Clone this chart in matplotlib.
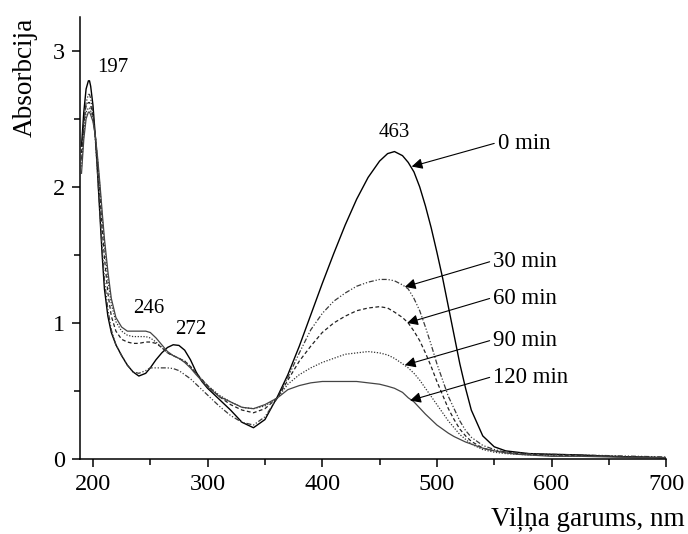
import matplotlib
matplotlib.use("Agg")
import matplotlib.pyplot as plt
from matplotlib.ticker import MultipleLocator

plt.rcParams['font.family'] = ['Liberation Serif', 'DejaVu Serif']

# wavelength grid, nm
wl = [190, 192, 194, 196, 197, 198, 200, 202, 204, 206, 208, 210, 213, 216,
      220, 225, 230, 235, 240, 246, 250, 255, 260, 265, 270, 275, 280, 285,
      290, 295, 300, 310, 320, 330, 340, 350, 361, 370, 380, 390, 400, 410,
      420, 430, 440, 450, 457, 463, 470, 475, 480, 485, 490, 495, 500, 505,
      510, 515, 520, 525, 530, 540, 550, 560, 570, 580, 600, 625, 650, 675, 700]

# absorbance
a_0 = [2.30, 2.55, 2.72, 2.78, 2.78, 2.74, 2.60, 2.38, 2.10, 1.80, 1.50, 1.25, 1.05, 0.93,
       0.84, 0.76, 0.69, 0.64, 0.61, 0.63, 0.67, 0.73, 0.78, 0.82, 0.84, 0.835, 0.80, 0.73,
       0.64, 0.57, 0.52, 0.44, 0.36, 0.27, 0.23, 0.29, 0.46, 0.62, 0.83, 1.06, 1.29, 1.51,
       1.72, 1.91, 2.07, 2.19, 2.245, 2.26, 2.23, 2.18, 2.11, 2.00, 1.86, 1.70, 1.52, 1.33,
       1.12, 0.91, 0.70, 0.52, 0.36, 0.17, 0.09, 0.06, 0.05, 0.04,
       0.035, 0.03, 0.02, 0.015, 0.01]
a_30 = [2.20, 2.45, 2.62, 2.68, 2.68, 2.65, 2.55, 2.35, 2.10, 1.82, 1.55, 1.32, 1.10, 0.95,
        0.84, 0.76, 0.69, 0.64, 0.63, 0.65, 0.67, 0.67, 0.67, 0.67, 0.665, 0.65, 0.62, 0.59,
        0.55, 0.51, 0.47, 0.39, 0.32, 0.27, 0.25, 0.31, 0.45, 0.60, 0.78, 0.95, 1.07, 1.16,
        1.22, 1.27, 1.30, 1.32, 1.32, 1.31, 1.28, 1.25, 1.18, 1.09, 0.97, 0.84, 0.70, 0.58,
        0.46, 0.37, 0.28, 0.21, 0.16, 0.10, 0.07, 0.05, 0.045, 0.04,
        0.035, 0.03, 0.025, 0.02, 0.015]
a_60 = [2.25, 2.48, 2.60, 2.62, 2.62, 2.60, 2.52, 2.38, 2.18, 1.95, 1.70, 1.48, 1.22, 1.05,
        0.94, 0.88, 0.86, 0.85, 0.85, 0.86, 0.86, 0.85, 0.82, 0.78, 0.76, 0.74, 0.72, 0.68,
        0.63, 0.585, 0.54, 0.46, 0.40, 0.36, 0.34, 0.37, 0.45, 0.58, 0.72, 0.83, 0.93, 1.00,
        1.05, 1.09, 1.11, 1.12, 1.11, 1.08, 1.04, 1.00, 0.94, 0.87, 0.78, 0.68, 0.57, 0.47,
        0.37, 0.29, 0.22, 0.17, 0.13, 0.08, 0.06, 0.05, 0.04, 0.035,
        0.03, 0.025, 0.02, 0.015, 0.01]
a_90 = [2.15, 2.40, 2.55, 2.58, 2.58, 2.56, 2.50, 2.38, 2.20, 2.00, 1.78, 1.58, 1.32, 1.14,
        1.01, 0.94, 0.91, 0.90, 0.90, 0.90, 0.89, 0.86, 0.82, 0.78, 0.76, 0.74, 0.72, 0.68,
        0.63, 0.585, 0.54, 0.47, 0.42, 0.38, 0.37, 0.39, 0.45, 0.55, 0.62, 0.67, 0.71, 0.74,
        0.77, 0.78, 0.79, 0.78, 0.765, 0.74, 0.70, 0.67, 0.63, 0.58, 0.52, 0.46, 0.40, 0.34,
        0.28, 0.23, 0.18, 0.145, 0.11, 0.07, 0.05, 0.04, 0.035, 0.03,
        0.025, 0.02, 0.02, 0.015, 0.01]
a_120 = [2.10, 2.35, 2.50, 2.55, 2.55, 2.53, 2.48, 2.38, 2.22, 2.03, 1.82, 1.62, 1.38, 1.18,
         1.04, 0.97, 0.94, 0.94, 0.94, 0.94, 0.93, 0.89, 0.84, 0.79, 0.76, 0.74, 0.71, 0.67,
         0.62, 0.575, 0.53, 0.46, 0.42, 0.38, 0.37, 0.40, 0.45, 0.51, 0.54, 0.56, 0.57, 0.57,
         0.57, 0.57, 0.56, 0.55, 0.535, 0.52, 0.49, 0.45, 0.42, 0.375, 0.33, 0.29, 0.25, 0.22,
         0.19, 0.165, 0.145, 0.125, 0.11, 0.08, 0.06, 0.045, 0.035, 0.03,
         0.02, 0.02, 0.015, 0.01, 0.01]

# peak labels: text, x, y
peaks = [("197", 217.5, 2.875), ("246", 249, 1.11), ("272", 285.5, 0.955), ("463", 462.6, 2.40)]

# time labels: text, text x/y, arrow tip x/y
times = [("0 min", 553, 2.32, 478, 2.15),
         ("30 min", 549, 1.45, 472, 1.265),
         ("60 min", 549, 1.18, 474, 1.00),
         ("90 min", 549, 0.87, 472, 0.69),
         ("120 min", 549, 0.60, 476.6, 0.43)]

fig = plt.figure(figsize=(6.88, 5.34), dpi=100)
ax = fig.add_axes([0.1163, 0.1404, 0.852, 0.828])

ax.plot(wl, a_0, color='black', lw=1.0, ls='-')
ax.plot(wl, a_30, color='#3a3a3a', lw=0.9, ls=(0, (4, 1.5, 1, 1.5, 1, 1.5)))
ax.plot(wl, a_60, color='#222222', lw=0.9, ls=(0, (3, 2)))
ax.plot(wl, a_90, color='#333333', lw=0.9, ls=(0, (1, 1.3)))
ax.plot(wl, a_120, color='#444444', lw=0.9, ls='-')

for txt, x, y in peaks:
    ax.text(x, y, txt, fontsize=15, ha='center', va='center')

for txt, tx, ty, px, py in times:
    ax.annotate('', xy=(px, py), xytext=(tx - 3, ty),
                arrowprops=dict(arrowstyle='-|>', color='black', lw=0.8,
                                mutation_scale=16, shrinkA=0, shrinkB=0))
    ax.text(tx, ty, txt, fontsize=16.5, ha='left', va='center')

ax.set_xlim(188.7, 700)
ax.set_ylim(0, 3.25)
ax.xaxis.set_major_locator(MultipleLocator(100))
ax.xaxis.set_minor_locator(MultipleLocator(50))
ax.yaxis.set_major_locator(MultipleLocator(1))
ax.yaxis.set_minor_locator(MultipleLocator(0.5))
ax.spines['top'].set_visible(False)
ax.spines['right'].set_visible(False)
for s in ['left', 'bottom']:
    ax.spines[s].set_linewidth(1.1)
ax.tick_params(which='major', direction='out', length=6, width=1.1, labelsize=17.5, pad=5)
ax.tick_params(which='minor', direction='out', length=4, width=1.1)

fig.text(25 / 688, 1 - 77 / 534, "Absorbcija", rotation=90, fontsize=19.5,
         ha='center', va='center')
fig.text(685 / 688, 1 - 519 / 534, "Viļņa garums, nm", fontsize=19.5,
         ha='right', va='center')

fig.savefig("out.png", dpi=100)
